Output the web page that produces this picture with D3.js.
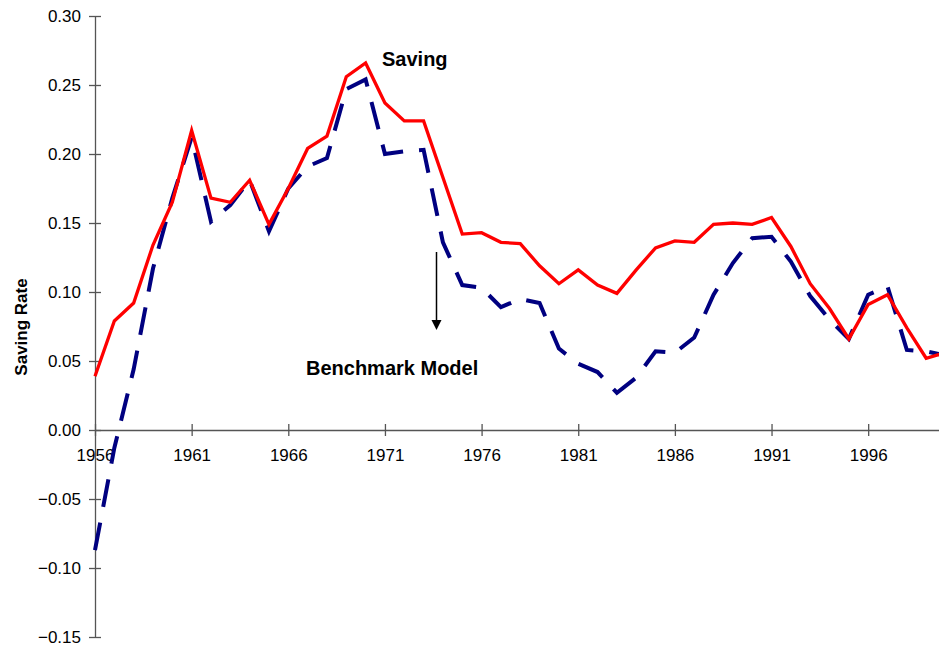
<!DOCTYPE html>
<html>
<head>
    <meta charset="utf-8">
    <title>Saving Rate</title>
    <script src="https://d3js.org/d3.v7.min.js"></script>
    <style>
      body { margin: 0; background: #fff; }
      svg { display: block; }
    </style>
</head>
<body>
<div id="chart"></div>
<script type="text/javascript">
    // data
    let years = d3.range(1956, 2001);
    let saving = [
      0.039, 0.079, 0.092, 0.134, 0.165, 0.217, 0.168, 0.165, 0.181, 0.149,
      0.175, 0.204, 0.213, 0.256, 0.266, 0.237, 0.224, 0.224, 0.183, 0.142,
      0.143, 0.136, 0.135, 0.119, 0.106, 0.116, 0.105, 0.099, 0.116, 0.132,
      0.137, 0.136, 0.149, 0.150, 0.149, 0.154, 0.133, 0.106, 0.088, 0.066,
      0.091, 0.098, 0.074, 0.052, 0.056
    ];
    let benchmark = [
      -0.087, -0.013, 0.044, 0.117, 0.168, 0.212, 0.151, 0.163, 0.181, 0.144,
      0.175, 0.191, 0.197, 0.247, 0.254, 0.200, 0.202, 0.203, 0.136, 0.105,
      0.103, 0.089, 0.095, 0.092, 0.059, 0.048, 0.042, 0.027, 0.038, 0.057,
      0.056, 0.067, 0.098, 0.121, 0.139, 0.140, 0.122, 0.097, 0.080, 0.066,
      0.098, 0.104, 0.058, 0.057, 0.054
    ];
    let yTicks = [-0.15, -0.10, -0.05, 0.00, 0.05, 0.10, 0.15, 0.20, 0.25, 0.30];
    let xTicks = [1956, 1961, 1966, 1971, 1976, 1981, 1986, 1991, 1996];

    let W = 939, H = 645;

    let svg = d3.select("#chart")
            .append("svg")
                .attr("width", W)
                .attr("height", H);

    let xScale = d3.scaleLinear()
                  .domain([1956, 2000])
                  .range([95, 945.5]);
    let yScale = d3.scaleLinear()
                  .domain([-0.15, 0.30])
                  .range([637, 16]);

    let font = "'Liberation Sans', Arial, sans-serif";

    // x axis at zero
    let xAxis = d3.axisBottom(xScale)
                    .tickValues(xTicks)
                    .tickFormat(d3.format("d"))
                    .tickSizeInner(6)
                    .tickSizeOuter(0);
    let gx = svg.append("g")
        .attr("transform", "translate(0," + yScale(0) + ")")
        .call(xAxis);
    gx.selectAll(".tick line").attr("y1", -6);
    gx.selectAll(".tick text")
        .attr("y", 19)
        .attr("dy", "0.71em");

    // y axis
    let yAxis = d3.axisLeft(yScale)
                    .tickValues(yTicks)
                    .tickFormat(d3.format(".2f"))
                    .tickSizeInner(6)
                    .tickSizeOuter(0)
                    .tickPadding(8);
    let gy = svg.append("g")
        .attr("transform", "translate(" + xScale(1956) + ",0)")
        .call(yAxis);
    gy.selectAll(".tick line").attr("x1", 6);

    svg.selectAll(".domain, .tick line")
        .attr("stroke", "#555")
        .attr("stroke-width", 1.3);
    svg.selectAll(".tick text")
        .attr("font-family", font)
        .attr("font-size", "17px")
        .attr("fill", "#000");

    let line = d3.line()
        .x((d, i) => xScale(years[i]))
        .y(d => yScale(d));

    svg.append("path")
        .datum(benchmark)
        .attr("fill", "none")
        .attr("stroke", "#000080")
        .attr("stroke-width", 4)
        .attr("stroke-dasharray", "28,16")
        .attr("d", line);

    svg.append("path")
        .datum(saving)
        .attr("fill", "none")
        .attr("stroke", "#ff0000")
        .attr("stroke-width", 3.3)
        .attr("stroke-linejoin", "miter")
        .attr("d", line);

    // labels
    svg.append("text")
        .attr("transform", "translate(27," + 327 + ") rotate(-90)")
        .style("text-anchor", "middle")
        .attr("font-family", font)
        .attr("font-size", "17px")
        .attr("font-weight", "bold")
        .text("Saving Rate");

    svg.append("text")
        .attr("x", 382)
        .attr("y", 66)
        .attr("font-family", font)
        .attr("font-size", "20px")
        .attr("font-weight", "bold")
        .text("Saving");

    svg.append("text")
        .attr("x", 306)
        .attr("y", 375)
        .attr("font-family", font)
        .attr("font-size", "20px")
        .attr("font-weight", "bold")
        .text("Benchmark Model");

    // arrow
    svg.append("line")
        .attr("x1", 436.5).attr("y1", 252)
        .attr("x2", 436.5).attr("y2", 322)
        .attr("stroke", "#000")
        .attr("stroke-width", 1.5);
    svg.append("path")
        .attr("d", "M431.5,320 L441.5,320 L436.5,330 Z")
        .attr("fill", "#000");
</script>
</body>
</html>
